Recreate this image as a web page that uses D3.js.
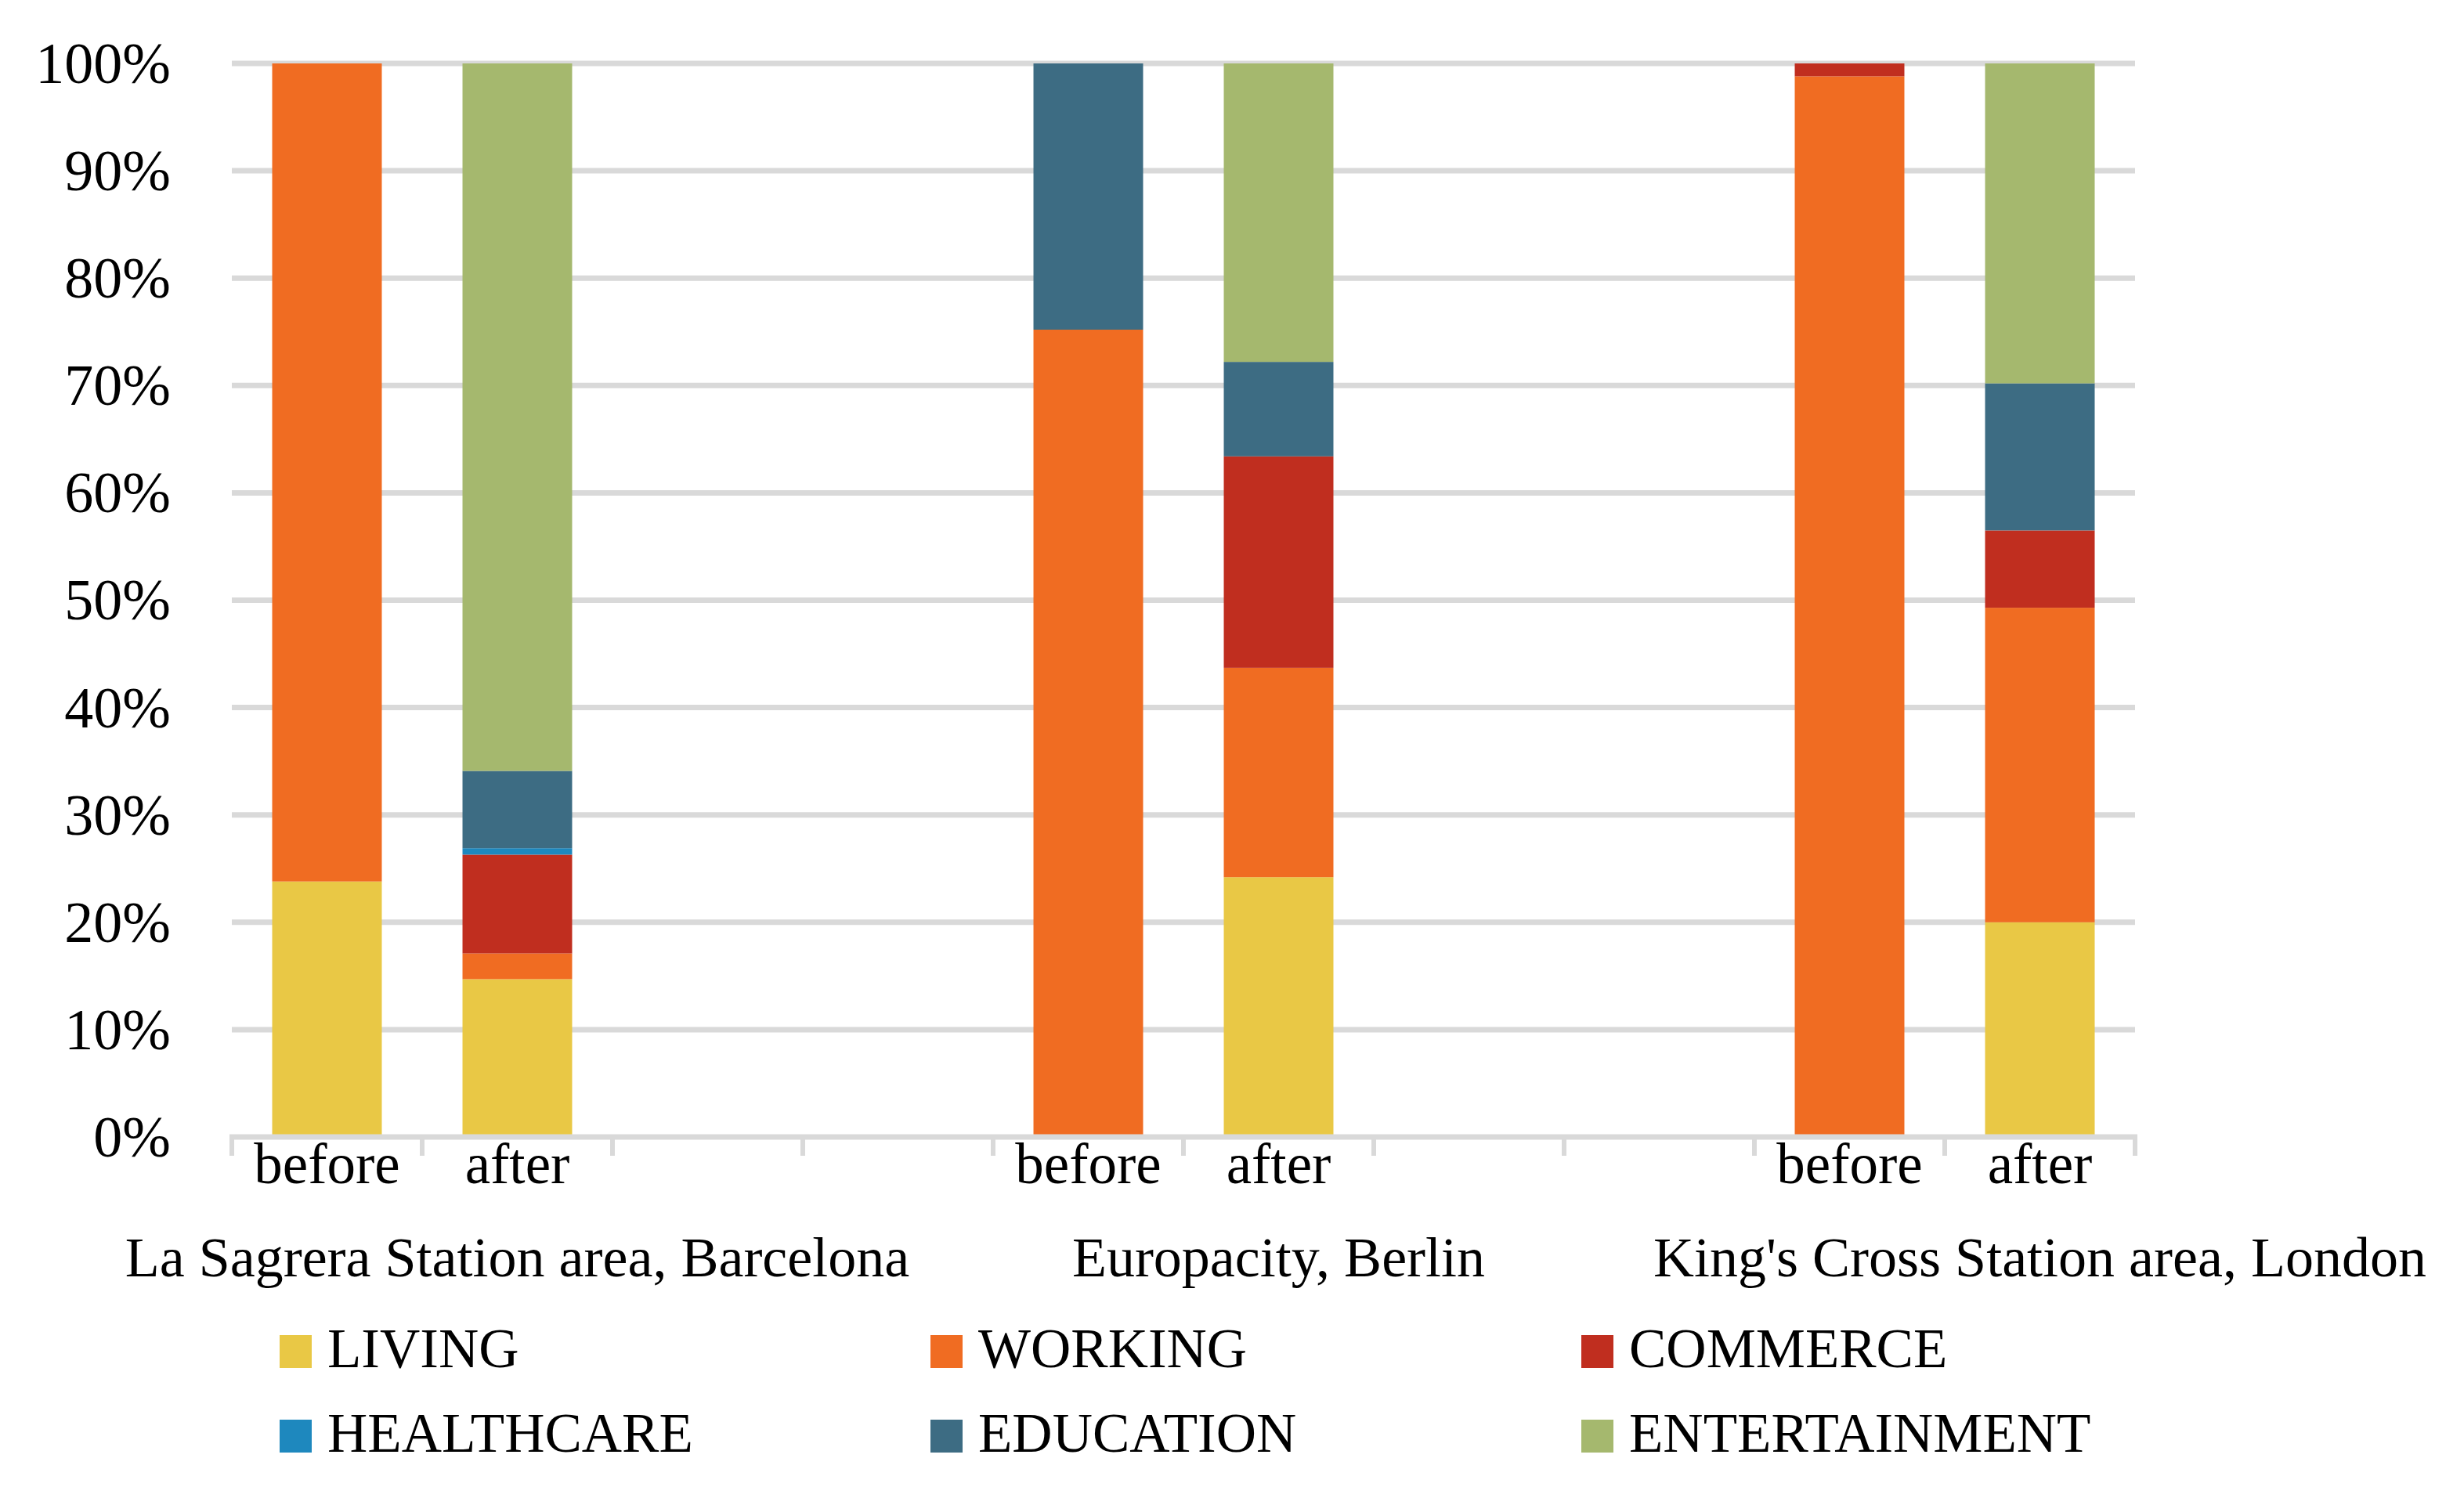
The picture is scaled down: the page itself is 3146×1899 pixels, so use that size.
<!DOCTYPE html>
<html>
<head>
<meta charset="utf-8">
<script src="https://cdn.jsdelivr.net/npm/d3@7"></script>
<style>
  body { margin: 0; background: #fff; }
  svg { display: block; }
</style>
</head>
<body>
<svg width="3146" height="1899"></svg>
<script>
"use strict";

// one slot per column, blank slots separate the three sites
const slotLabels = ["before", "after", "", "", "before", "after", "", "", "before", "after"];
const siteNames = ["La Sagrera Station area, Barcelona", "Europacity, Berlin", "King's Cross Station area, London"];
const siteFirstSlot = [0, 4, 8];

const useKeys = ["LIVING", "WORKING", "COMMERCE", "HEALTHCARE", "EDUCATION", "ENTERTAINMENT"];
const useColors = ["#e9c845", "#f06c22", "#c02e1f", "#1e88be", "#3d6c83", "#a5b86e"];

// percent shares
const living        = [23.8, 14.7, 0, 0,  0.0, 24.2, 0, 0,  0.0, 20.0];
const working       = [76.2,  2.4, 0, 0, 75.2, 19.5, 0, 0, 98.8, 29.3];
const commerce      = [ 0.0,  9.2, 0, 0,  0.0, 19.7, 0, 0,  1.2,  7.2];
const healthcare    = [ 0.0,  0.6, 0, 0,  0.0,  0.0, 0, 0,  0.0,  0.0];
const education     = [ 0.0,  7.2, 0, 0, 24.8,  8.8, 0, 0,  0.0, 13.7];
const entertainment = [ 0.0, 65.9, 0, 0,  0.0, 27.8, 0, 0,  0.0, 29.8];

const yTicks = [0, 10, 20, 30, 40, 50, 60, 70, 80, 90, 100];

window.addEventListener("load", drawChart);

function drawChart() {
    const svg = d3.select("svg");
    const plot = {left: 296, right: 2726, top: 81, bottom: 1452};
    const grey = "#d9d9d9";
    const serif = "'Liberation Serif', 'Times New Roman', serif";

    const rows = slotLabels.map((lab, i) => ({
        slot: i,
        LIVING: living[i], WORKING: working[i], COMMERCE: commerce[i],
        HEALTHCARE: healthcare[i], EDUCATION: education[i], ENTERTAINMENT: entertainment[i]
    }));
    const series = d3.stack().keys(useKeys)(rows);

    const slots = d3.range(slotLabels.length);
    const xSlot = d3.scaleBand().domain(slots).range([plot.left, plot.right]);
    const xBar = d3.scaleBand().domain(slots).range([plot.left, plot.right])
        .paddingInner(0.424).paddingOuter(0.212);
    const y = d3.scaleLinear().domain([0, 100]).range([plot.bottom, plot.top]);
    const color = d3.scaleOrdinal().domain(useKeys).range(useColors);

    // gridlines
    svg.append("g").selectAll("line")
        .data(yTicks.filter(t => t > 0))
        .join("line")
        .attr("x1", plot.left).attr("x2", plot.right)
        .attr("y1", d => y(d)).attr("y2", d => y(d))
        .attr("stroke", grey).attr("stroke-width", 7);

    // y labels
    const yAxis = svg.append("g")
        .attr("transform", `translate(${plot.left - 78},0)`)
        .call(d3.axisLeft(y).tickValues(yTicks).tickFormat(d => d + "%").tickSize(0).tickPadding(0));
    yAxis.select(".domain").remove();
    yAxis.selectAll("text")
        .attr("font-family", serif).attr("font-size", 74).attr("fill", "#000")
        .attr("dy", "0.33em");

    // stacked bars
    svg.append("g").selectAll("g")
        .data(series)
        .join("g")
        .attr("fill", d => color(d.key))
        .selectAll("rect")
        .data(d => d.filter(p => p[1] - p[0] > 0))
        .join("rect")
        .attr("x", p => xBar(p.data.slot))
        .attr("width", xBar.bandwidth())
        .attr("y", p => y(p[1]))
        .attr("height", p => y(p[0]) - y(p[1]));

    // x axis line and slot ticks
    const xAxis = svg.append("g");
    xAxis.append("line")
        .attr("x1", plot.left - 3).attr("x2", plot.right + 3)
        .attr("y1", plot.bottom).attr("y2", plot.bottom)
        .attr("stroke", grey).attr("stroke-width", 7);
    xAxis.selectAll("line.tick")
        .data(slots.concat([slots.length]))
        .join("line")
        .attr("class", "tick")
        .attr("x1", d => d < slots.length ? xSlot(d) : plot.right)
        .attr("x2", d => d < slots.length ? xSlot(d) : plot.right)
        .attr("y1", plot.bottom).attr("y2", plot.bottom + 24)
        .attr("stroke", grey).attr("stroke-width", 6);

    xAxis.selectAll("text.slot")
        .data(slots)
        .join("text")
        .attr("class", "slot")
        .attr("x", d => xSlot(d) + xSlot.bandwidth() / 2)
        .attr("y", 1511)
        .attr("text-anchor", "middle")
        .attr("font-family", serif).attr("font-size", 73)
        .text(d => slotLabels[d]);

    // site labels, each centred over three slots
    xAxis.selectAll("text.site")
        .data(siteNames)
        .join("text")
        .attr("class", "site")
        .attr("x", (d, i) => xSlot(siteFirstSlot[i]) + 1.5 * xSlot.step())
        .attr("y", 1630)
        .attr("text-anchor", "middle")
        .attr("font-family", serif).attr("font-size", 72)
        .text(d => d);

    // legend
    const legend = svg.append("g").selectAll("g")
        .data(useKeys)
        .join("g")
        .attr("transform", (d, i) => `translate(${357 + (i % 3) * 831},${1705 + Math.floor(i / 3) * 108})`);
    legend.append("rect")
        .attr("width", 41).attr("height", 42)
        .attr("fill", d => color(d));
    legend.append("text")
        .attr("x", 61).attr("y", 41)
        .attr("font-family", serif).attr("font-size", 71)
        .text(d => d);
}
</script>
</body>
</html>
